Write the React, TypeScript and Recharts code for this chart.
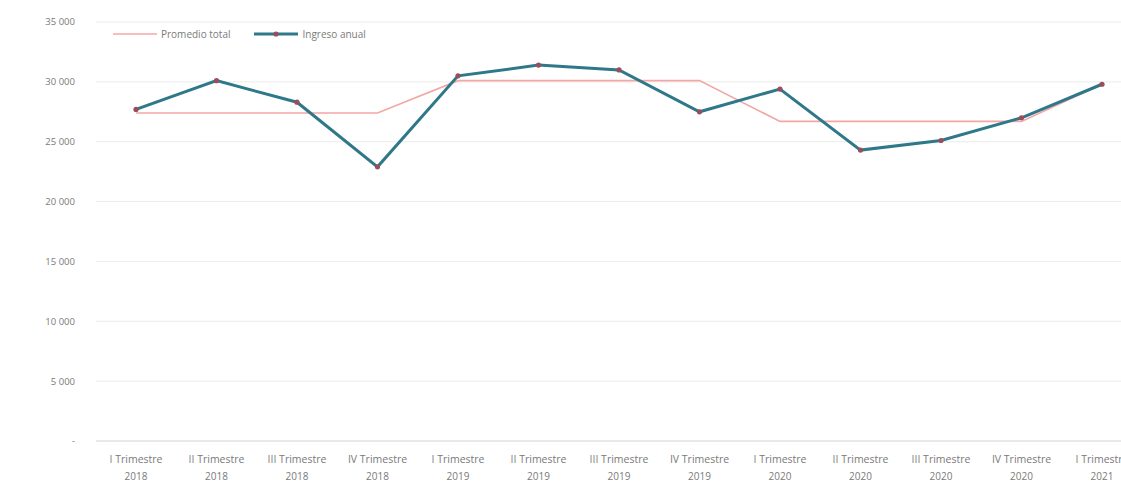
import { LineChart, Line, XAxis, YAxis, CartesianGrid } from "recharts";

const quarters = ["I", "II", "III", "IV", "I", "II", "III", "IV", "I", "II", "III", "IV", "I"];
const years = ["2018", "2018", "2018", "2018", "2019", "2019", "2019", "2019", "2020", "2020", "2020", "2020", "2021"];
const ingresoAnual = [27700, 30100, 28300, 22900, 30500, 31400, 31000, 27500, 29400, 24300, 25100, 27000, 29800];
const promedioTotal = [27400, 27400, 27400, 27400, 30100, 30100, 30100, 30100, 26700, 26700, 26700, 26700, 29800];
const yTicks = [0, 5000, 10000, 15000, 20000, 25000, 30000, 35000];

const data = quarters.map((q, i) => ({
	name: `${q} Trimestre ${years[i]}`,
	quarter: `${q} Trimestre`,
	year: years[i],
	ingreso: ingresoAnual[i],
	promedio: promedioTotal[i],
}));

const TEAL = "#2f7889";
const PINK = "#f2a7a5";
const MARK = "#9a4d5c";
const FONT = "'Open Sans', 'DejaVu Sans', sans-serif";

const fmtY = (v: number) => (v === 0 ? "-" : v.toLocaleString("en-US").replace(/,/g, " "));

const XTick = (props: any) => {
	const { x, y, index } = props;
	const d = data[index];
	return (
		<g>
			<text x={x} y={y + 14} textAnchor="middle" fontSize={10.5} fill="#7a7a7a" fontFamily={FONT}>
				{d.quarter}
			</text>
			<text x={x} y={y + 31} textAnchor="middle" fontSize={10} fill="#7a7a7a" fontFamily={FONT}>
				{d.year}
			</text>
		</g>
	);
};

const Dot = (props: any) => {
	const { cx, cy } = props;
	return <circle cx={cx} cy={cy} r={2.6} fill={MARK} />;
};

const LegendRow = () => (
	<div
		style={{
			position: "absolute",
			left: 113,
			top: 27,
			display: "flex",
			alignItems: "center",
			fontFamily: FONT,
			fontSize: 10,
			color: "#7a7a7a",
		}}
	>
		<svg width={44} height={10}>
			<line x1={0} y1={5} x2={44} y2={5} stroke={PINK} strokeWidth={1.6} />
		</svg>
		<span style={{ marginLeft: 4 }}>Promedio total</span>
		<svg width={44} height={10} style={{ marginLeft: 24 }}>
			<line x1={0} y1={5} x2={44} y2={5} stroke={TEAL} strokeWidth={3} />
			<circle cx={22} cy={5} r={2.6} fill={MARK} />
		</svg>
		<span style={{ marginLeft: 4 }}>Ingreso anual</span>
	</div>
);

export default function App() {
	return (
		<div
			style={{
				position: "fixed",
				left: 0,
				top: 0,
				width: 1121,
				height: 483,
				overflow: "hidden",
				background: "#fff",
			}}
		>
			<LineChart
				width={1146}
				height={483}
				data={data}
				margin={{ top: 22, right: 4, left: 0, bottom: 0 }}
			>
				<CartesianGrid stroke="#ebebeb" vertical={false} />
				<XAxis
					dataKey="name"
					height={42}
					interval={0}
					padding={{ left: 40, right: 40 }}
					tick={<XTick />}
					tickLine={false}
					axisLine={{ stroke: "#dcdcdc" }}
				/>
				<YAxis
					width={96}
					domain={[0, 35000]}
					ticks={yTicks}
					tickFormatter={fmtY}
					tick={{ fontSize: 9.5, fill: "#7a7a7a", fontFamily: FONT }}
					tickLine={false}
					tickSize={0}
					tickMargin={21}
					axisLine={false}
				/>
				<Line
					dataKey="promedio"
					stroke={PINK}
					strokeWidth={1.6}
					dot={false}
					isAnimationActive={false}
				/>
				<Line
					dataKey="ingreso"
					stroke={TEAL}
					strokeWidth={3}
					dot={<Dot />}
					activeDot={false}
					isAnimationActive={false}
				/>
			</LineChart>
			<LegendRow />
		</div>
	);
}
